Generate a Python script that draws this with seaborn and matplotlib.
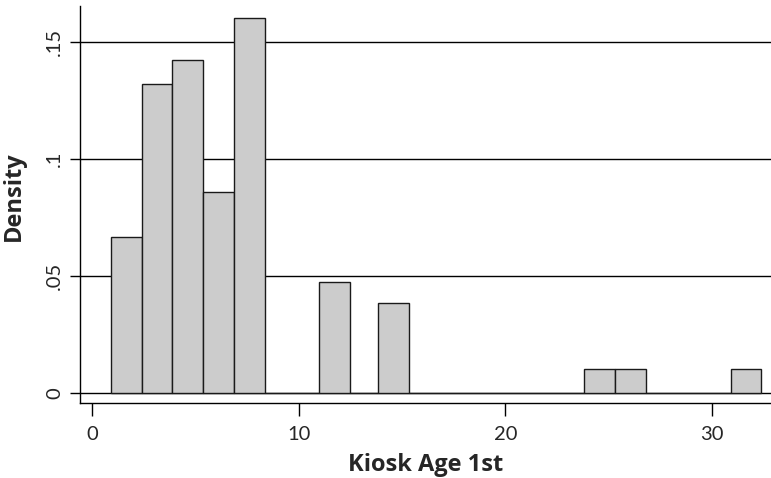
import matplotlib
matplotlib.use("Agg")
import matplotlib.pyplot as plt
import seaborn as sns
import numpy as np

# bin edges (bars are not on one regular grid)
bin_edges = [0.92, 2.41, 3.90, 5.39, 6.88, 8.37,
             11.00, 12.49, 13.86, 15.35, 23.80, 25.29, 26.78, 30.90, 32.39]
# density of each bin between consecutive edges (0 for the gaps)
densities = [0.0667, 0.1319, 0.1420, 0.0858, 0.1602,
             0.0, 0.0475, 0.0, 0.0384, 0.0, 0.0102, 0.0102, 0.0, 0.0102]
x_ticks = [0, 10, 20, 30]
y_ticks = [0, 0.05, 0.10, 0.15]
y_tick_labels = ["0", ".05", ".1", ".15"]

edges = np.array(bin_edges)
centers = (edges[:-1] + edges[1:]) / 2

sns.set_style("white")
plt.rcParams["font.family"] = ["Lato", "DejaVu Sans"]

fig = plt.figure(figsize=(7.71, 4.78), dpi=100)
ax = fig.add_axes([0.1038, 0.1575, 0.8962, 0.83])

for yv in y_ticks:
    ax.axhline(yv, color="black", linewidth=1.0, zorder=0)

sns.histplot(x=centers, weights=densities, bins=bin_edges, stat="count",
             color="#cccccc", edgecolor="#1a1a1a", linewidth=1.0, alpha=1,
             ax=ax, zorder=2)

ax.set_xlim(-0.57, 32.85)
ax.set_ylim(-0.004, 0.1652)
ax.set_xticks(x_ticks)
ax.set_yticks(y_ticks)
ax.set_yticklabels(y_tick_labels, rotation=90, va="center")
ax.tick_params(axis="both", direction="out", length=9, width=1.0,
               labelsize=14.5, color="black", pad=8)
ax.tick_params(axis="y", length=7, pad=5)
ax.tick_params(axis="both", bottom=True, left=True)

for side in ["top", "right"]:
    ax.spines[side].set_visible(False)
for side in ["left", "bottom"]:
    ax.spines[side].set_color("black")
    ax.spines[side].set_linewidth(1.0)

lab_font = dict(family=["Open Sans", "DejaVu Sans"], fontsize=17, fontweight="bold")
ax.set_xlabel("Kiosk Age 1st", labelpad=7, **lab_font)
ax.set_ylabel("Density", **lab_font)
ax.yaxis.set_label_coords(-0.078, 0.52)

fig.savefig("out.png", dpi=100)
